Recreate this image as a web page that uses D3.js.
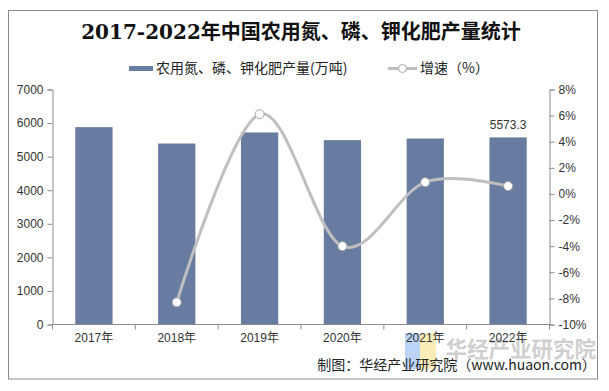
<!DOCTYPE html>
<html><head><meta charset="utf-8">
<script src="https://cdn.jsdelivr.net/npm/d3@7"></script>
<style>
body{margin:0;background:#fff;}
svg{display:block;}
</style></head>
<body>
<script>
const categories = ["2017年","2018年","2019年","2020年","2021年","2022年"];
const output = [5879, 5391, 5720, 5491, 5540, 5573.3];
const growthYears = ["2018年","2019年","2020年","2021年","2022年"];
const growth = [-8.3, 6.1, -4.0, 0.9, 0.6];
const leftTicks = [0,1000,2000,3000,4000,5000,6000,7000];
const rightTicks = [-10,-8,-6,-4,-2,0,2,4,6,8];
const title = "2017-2022年中国农用氮、磷、钾化肥产量统计";
const barName = "农用氮、磷、钾化肥产量(万吨)";
const lineName = "增速（%）";
const source = "制图：华经产业研究院（www.huaon.com）";
const watermark = "华经产业研究院";

const W = 609, H = 391;
const svg = d3.select("body").append("svg").attr("width", W).attr("height", H);
const sans = "'Liberation Sans', Arial, 'Noto Sans CJK SC', sans-serif";
const cjk = "'Noto Sans CJK SC', 'Liberation Sans', sans-serif";

svg.append("rect").attr("x",8.5).attr("y",10.5).attr("width",589).attr("height",368.5)
  .attr("fill","#fff").attr("stroke","#8c8c8c").attr("stroke-width",1);

const L = 52.5, R = 549.5, T = 89.5, B = 324.5;
const x = d3.scaleBand().domain(categories).range([L, R]).padding(0);
const yL = d3.scaleLinear().domain([0,7000]).range([B, T]);
const yR = d3.scaleLinear().domain([-10,8]).range([B, T]);

// watermark
const wm = svg.append("g");
wm.append("rect").attr("x",405).attr("y",333).attr("width",15).attr("height",36).attr("fill","#a9c8f5").attr("opacity",0.8);
wm.append("rect").attr("x",420).attr("y",333).attr("width",16).attr("height",36).attr("fill","#fbe9a6").attr("opacity",0.8);
wm.append("text").attr("x",596).attr("y",357).attr("text-anchor","end").attr("font-family",cjk).attr("font-weight","bold")
  .attr("font-size",21.5).attr("fill","#cfcfcf").text(watermark);

// bars
const bw = x.bandwidth()*0.45;
svg.append("g").selectAll("rect").data(output).join("rect")
  .attr("x",(d,i)=>x(categories[i])+x.bandwidth()/2-bw/2)
  .attr("y",d=>yL(d)).attr("width",bw).attr("height",d=>B-yL(d))
  .attr("fill","#687ba0");

// data label
svg.append("text").attr("x",x(categories[5])+x.bandwidth()/2).attr("y",yL(output[5])-8)
  .attr("text-anchor","middle").attr("font-family",sans).attr("font-size",12).attr("fill","#333")
  .text(output[5]);

// axes
const axCol = "#8c8c8c";
const axL = svg.append("g").attr("transform",`translate(${L},0)`)
  .call(d3.axisLeft(yL).tickValues(leftTicks).tickSize(5).tickPadding(4).tickFormat(d3.format("d")));
const axR = svg.append("g").attr("transform",`translate(${R},0)`)
  .call(d3.axisRight(yR).tickValues(rightTicks).tickSize(5).tickPadding(4).tickFormat(d=>d+"%"));
const axB = svg.append("g").attr("transform",`translate(0,${B})`)
  .call(d3.axisBottom(x).tickSize(0).tickPadding(9));
[axL,axR,axB].forEach(a=>{
  a.select(".domain").attr("stroke",axCol);
  a.selectAll(".tick line").attr("stroke",axCol);
  a.selectAll("text").attr("font-family",sans).attr("font-size",12).attr("fill","#333");
});
axB.select(".domain").attr("d",`M${L},0H${R}`);
// category boundary ticks
const bounds = categories.map(c=>x(c)).concat([R]);
svg.append("g").selectAll("line").data(bounds).join("line")
  .attr("x1",d=>d).attr("x2",d=>d).attr("y1",B).attr("y2",B+5).attr("stroke",axCol);

// growth line
const pts = growth.map((g,i)=>[x(growthYears[i])+x.bandwidth()/2, yR(g)]);
svg.append("path").datum(pts)
  .attr("d", d3.line().curve(d3.curveCardinal.tension(0)))
  .attr("fill","none").attr("stroke","#bfbfbf").attr("stroke-width",3);
svg.append("g").selectAll("circle").data(pts).join("circle")
  .attr("cx",d=>d[0]).attr("cy",d=>d[1]).attr("r",4.5)
  .attr("fill","#fff").attr("stroke","#a6a6a6").attr("stroke-width",1);

// title
svg.append("text").attr("x",301).attr("y",39).attr("text-anchor","middle")
  .attr("font-family","'DejaVu Serif', 'Noto Sans CJK SC', serif").attr("font-weight","bold")
  .attr("font-size",20).attr("fill","#111").text(title);

// legend
svg.append("rect").attr("x",129).attr("y",66).attr("width",24).attr("height",5).attr("fill","#687ba0");
svg.append("text").attr("x",156).attr("y",73).attr("font-family",cjk).attr("font-size",14).attr("fill","#222").text(barName);
svg.append("line").attr("x1",388).attr("x2",417).attr("y1",68.5).attr("y2",68.5).attr("stroke","#bfbfbf").attr("stroke-width",3);
svg.append("circle").attr("cx",402.5).attr("cy",68.5).attr("r",4).attr("fill","#fff").attr("stroke","#a6a6a6");
svg.append("text").attr("x",420).attr("y",73).attr("font-family",cjk).attr("font-size",14).attr("fill","#222").text(lineName);

// source
svg.append("text").attr("x",596).attr("y",370).attr("text-anchor","end").attr("font-family",cjk).attr("font-size",14).attr("fill","#222").text(source);
</script>
</body></html>
